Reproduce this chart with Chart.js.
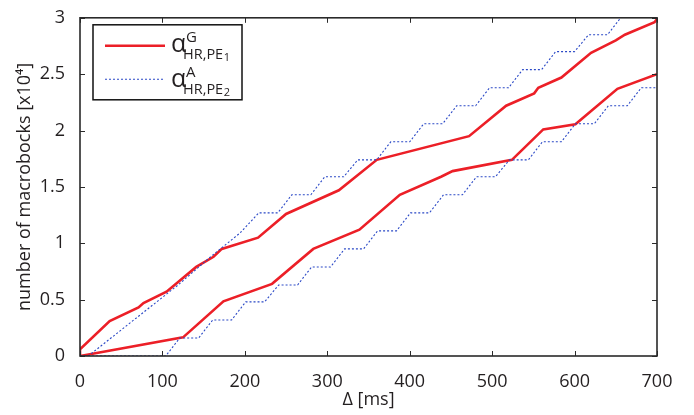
<!DOCTYPE html>
<html>
<head>
<meta charset="utf-8">
<script src="https://cdn.jsdelivr.net/npm/chart.js@4"></script>
<style>
  html, body { margin: 0; padding: 0; background: #fff; }
  #wrap { width: 694px; height: 415px; }
</style>
</head>
<body>
<div id="wrap"><canvas id="grafico"></canvas></div>
<script>
// ===== dados (Delta em ms, macroblocos em x10^4) =====
const gUpperX = [0, 0, 36, 71, 77, 105, 141, 162, 172, 216, 250, 314, 360, 472, 517, 551, 556, 584, 620, 650, 661, 697, 700];
const gUpperY = [0, 0.06, 0.31, 0.43, 0.47, 0.57, 0.79, 0.88, 0.95, 1.05, 1.26, 1.47, 1.74, 1.95, 2.22, 2.33, 2.38, 2.47, 2.69, 2.80, 2.85, 2.96, 2.99];

const gLowerX = [0, 125, 174, 233, 283, 339, 388, 438, 452, 524, 562, 601, 652, 700];
const gLowerY = [0, 0.165, 0.485, 0.64, 0.95, 1.12, 1.43, 1.59, 1.64, 1.74, 2.01, 2.055, 2.37, 2.50];

const aUpperX = [0, 10, 119, 160, 194, 217, 240, 257, 280, 297, 320, 337, 360, 377, 400, 417, 440, 457, 480, 497, 520, 537, 560, 577, 600, 617, 640, 657, 700];
const aUpperY = [0, 0, 0.63, 0.89, 1.09, 1.27, 1.27, 1.43, 1.43, 1.59, 1.59, 1.74, 1.74, 1.90, 1.90, 2.06, 2.06, 2.22, 2.22, 2.38, 2.38, 2.54, 2.54, 2.70, 2.70, 2.85, 2.85, 3.01, 3.01];

const aLowerX = [0, 104, 121, 144, 161, 184, 201, 224, 241, 264, 281, 304, 321, 344, 361, 384, 401, 424, 441, 464, 481, 504, 521, 544, 561, 584, 601, 624, 641, 664, 681, 700];
const aLowerY = [0, 0, 0.16, 0.16, 0.32, 0.32, 0.48, 0.48, 0.63, 0.63, 0.79, 0.79, 0.95, 0.95, 1.11, 1.11, 1.27, 1.27, 1.43, 1.43, 1.59, 1.59, 1.74, 1.74, 1.90, 1.90, 2.06, 2.06, 2.22, 2.22, 2.38, 2.38];

const xTicks = [0, 100, 200, 300, 400, 500, 600, 700];
const yTicks = [0, 0.5, 1, 1.5, 2, 2.5, 3];

const VERMELHO = '#ec1f27';
const AZUL = '#2a48c6';
const TEXTO = '#231f20';
const FONTE = "'Open Sans', 'DejaVu Sans', sans-serif";

function pontos(xs, ys) {
    return xs.map((x, i) => ({ x: x, y: ys[i] }));
}

// moldura com ticks para dentro + legenda com sub/sobrescritos
const moldura = {
    id: 'moldura',
    afterDatasetsDraw(chart) {
        const { ctx, chartArea: a, scales: { x, y } } = chart;
        ctx.save();
        ctx.strokeStyle = '#2a2a2a';
        ctx.lineWidth = 1;
        const tk = 5;
        xTicks.forEach(v => {
            const px = Math.round(x.getPixelForValue(v)) + 0.5;
            ctx.beginPath();
            ctx.moveTo(px, a.bottom); ctx.lineTo(px, a.bottom - tk);
            ctx.moveTo(px, a.top); ctx.lineTo(px, a.top + tk);
            ctx.stroke();
        });
        yTicks.forEach(v => {
            const py = Math.round(y.getPixelForValue(v)) + 0.5;
            ctx.beginPath();
            ctx.moveTo(a.left, py); ctx.lineTo(a.left + tk, py);
            ctx.moveTo(a.right, py); ctx.lineTo(a.right - tk, py);
            ctx.stroke();
        });
        ctx.lineWidth = 1.6;
        ctx.strokeRect(a.left, a.top, a.right - a.left, a.bottom - a.top);

        // ===== legenda =====
        const bx = a.left + 13, by = a.top + 7, bw = 149, bh = 75;
        ctx.fillStyle = '#fff';
        ctx.fillRect(bx, by, bw, bh);
        ctx.lineWidth = 1.5;
        ctx.strokeStyle = '#111';
        ctx.strokeRect(bx, by, bw, bh);

        ctx.lineWidth = 2.6;
        ctx.strokeStyle = VERMELHO;
        ctx.beginPath(); ctx.moveTo(bx + 12, by + 21); ctx.lineTo(bx + 72, by + 21); ctx.stroke();
        ctx.lineWidth = 1.1;
        ctx.strokeStyle = AZUL;
        ctx.setLineDash([2, 2]);
        ctx.beginPath(); ctx.moveTo(bx + 12, by + 54.5); ctx.lineTo(bx + 72, by + 54.5); ctx.stroke();
        ctx.setLineDash([]);

        ctx.fillStyle = TEXTO;
        ctx.textBaseline = 'alphabetic';
        const entradas = [['G', '1', 0], ['A', '2', 35]];
        entradas.forEach(([sup, idx, dy]) => {
            ctx.font = '25px ' + FONTE;
            ctx.fillText('α', bx + 78, by + 27 + dy);
            ctx.font = '15px ' + FONTE;
            ctx.fillText(sup, bx + 93, by + 17.5 + dy);
            ctx.font = '14.5px ' + FONTE;
            ctx.fillText('HR,PE', bx + 90, by + 34 + dy);
            const w = ctx.measureText('HR,PE').width;
            ctx.font = '11px ' + FONTE;
            ctx.fillText(idx, bx + 90 + w + 0.5, by + 36 + dy);
        });
        ctx.restore();
    }
};

window.addEventListener('DOMContentLoaded', () => {
    const ctx = document.getElementById('grafico').getContext('2d');
    new Chart(ctx, {
        type: 'scatter',
        data: {
            datasets: [
                { label: 'aUpper', data: pontos(aUpperX, aUpperY), showLine: true, borderColor: AZUL, borderWidth: 1.1, borderDash: [2, 2], pointRadius: 0, fill: false },
                { label: 'aLower', data: pontos(aLowerX, aLowerY), showLine: true, borderColor: AZUL, borderWidth: 1.1, borderDash: [2, 2], pointRadius: 0, fill: false },
                { label: 'gUpper', data: pontos(gUpperX, gUpperY), showLine: true, borderColor: VERMELHO, borderWidth: 2.6, pointRadius: 0, fill: false },
                { label: 'gLower', data: pontos(gLowerX, gLowerY), showLine: true, borderColor: VERMELHO, borderWidth: 2.6, pointRadius: 0, fill: false }
            ]
        },
        options: {
            responsive: true,
            maintainAspectRatio: false,
            animation: false,
            layout: { padding: { top: 11, right: 37, left: 0, bottom: 0 } },
            plugins: { legend: { display: false }, tooltip: { enabled: false } },
            scales: {
                x: {
                    type: 'linear', min: 0, max: 700,
                    grid: { display: false }, border: { display: false },
                    afterBuildTicks: s => { s.ticks = xTicks.map(v => ({ value: v })); },
                    afterFit: s => { s.height = 59; },
                    ticks: { color: TEXTO, font: { family: FONTE, size: 18 }, padding: 7, maxRotation: 0 },
                    title: { display: true, text: 'Δ [ms]', color: TEXTO, font: { family: FONTE, size: 18 }, padding: { top: 0, bottom: 4 } }
                },
                y: {
                    type: 'linear', min: 0, max: 3,
                    grid: { display: false }, border: { display: false },
                    afterBuildTicks: s => { s.ticks = yTicks.map(v => ({ value: v })); },
                    afterFit: s => { s.width = 80; },
                    ticks: { color: TEXTO, font: { family: FONTE, size: 18 }, padding: 7, callback: v => String(v) },
                    title: { display: true, text: 'number of macrobocks [x10⁴]', color: TEXTO, font: { family: FONTE, size: 18 }, padding: { top: 14, bottom: 0 } }
                }
            }
        },
        plugins: [moldura]
    });
});
</script>
</body>
</html>
